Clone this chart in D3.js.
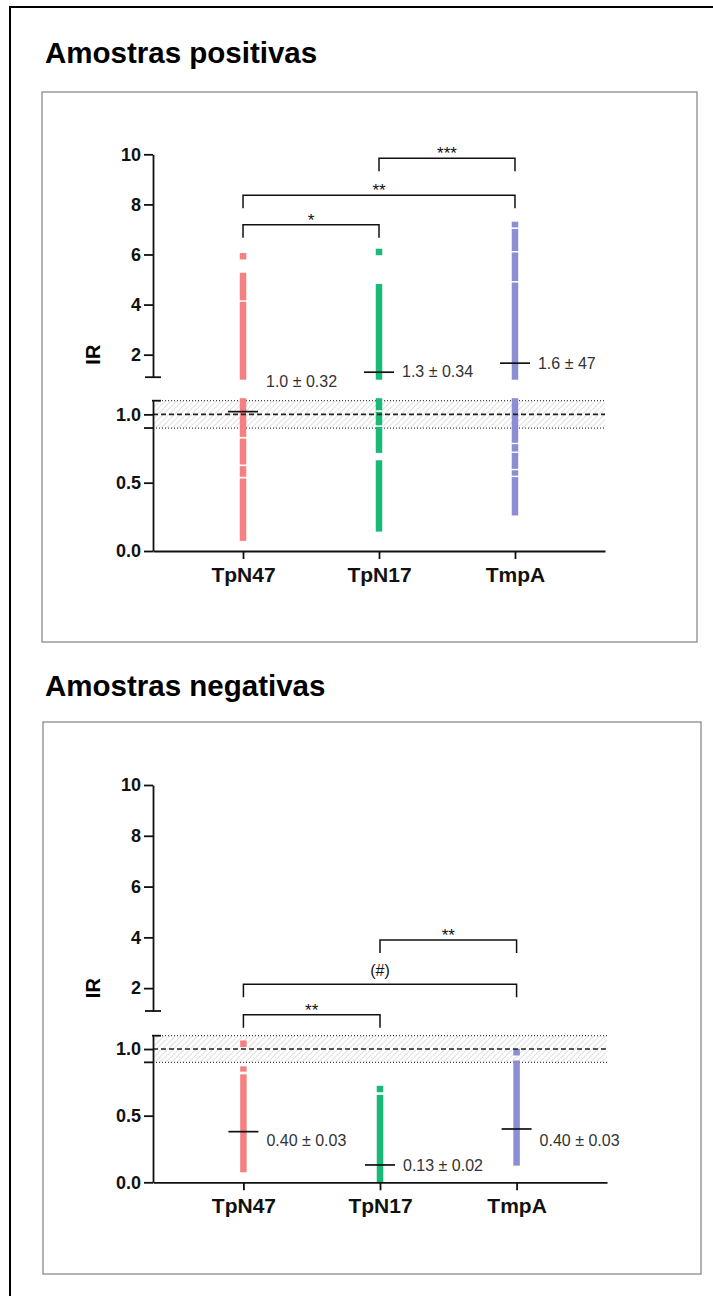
<!DOCTYPE html>
<html lang="pt">
  <head>
    <meta charset="UTF-8" />
    <title>Amostras positivas / negativas - IR</title>
    <script src="https://d3js.org/d3.v7.min.js"></script>
    <style>
      body {
        margin: 0;
        background: white;
        font-family: Arial, 'Liberation Sans', sans-serif;
      }
      .title {
        font-size: 29.5px;
        font-weight: bold;
      }
      .box {
        fill: none;
        stroke: #8a8a8a;
        stroke-width: 1.3px;
      }
      .axis path,
      .axis line {
        stroke: #111;
        stroke-width: 1.8px;
      }
      .axis text {
        font-size: 18px;
        font-weight: bold;
        fill: #111;
      }
      .xaxis text {
        font-size: 21px;
      }
      .cap {
        stroke: #111;
        stroke-width: 1.8px;
      }
      .ref-dot {
        stroke: #444;
        stroke-width: 1.3px;
        stroke-dasharray: 1 2;
      }
      .ref-dash {
        stroke: #222;
        stroke-width: 1.6px;
        stroke-dasharray: 5 3;
      }
      .mean {
        stroke: #111;
        stroke-width: 1.7px;
      }
      .mean-label {
        font-size: 16px;
        fill: #333;
      }
      .bracket {
        fill: none;
        stroke: #111;
        stroke-width: 1.5px;
      }
      .sig {
        font-size: 17px;
        fill: #111;
        text-anchor: middle;
      }
      .ylabel {
        font-size: 20px;
        font-weight: bold;
      }
    </style>
  </head>
  <body>
    <div id="chart"></div>

    <script>
      // categories and ticks
      const groups = ['TpN47', 'TpN17', 'TmpA'];
      const colors = ['#f58081', '#19b978', '#8b8fd1'];
      const upperTicks = [2, 4, 6, 8, 10];
      const lowerTicks = [0, 0.5, 1.0];
      const breakAt = 1.1;
      const refLine = 1.0;
      const refBand = [0.9, 1.1];

      // positive samples: runs of overlapping points [from, to] and isolated points
      const posRuns = [
        [[0.074, 0.531], [0.543, 0.621], [0.633, 0.823], [0.835, 4.11], [4.17, 5.27]],
        [[0.142, 0.664], [0.718, 0.908], [0.92, 1.018], [1.03, 4.82]],
        [[0.26, 0.541], [0.551, 0.591], [0.601, 0.718], [0.728, 0.782], [0.792, 4.88], [4.94, 6.08], [6.14, 7.02], [7.08, 7.31]],
      ];
      const posPoints = [[5.93], [6.1], []];
      const posMeans = [1.02, 1.3, 1.66];
      const posLabels = ['1.0 ± 0.32', '1.3 ± 0.34', '1.6 ± 47'];
      // [from group, to group, level (IR), text]
      const posBrackets = [
        [0, 1, 7.19, '*'],
        [0, 2, 8.36, '**'],
        [1, 2, 9.84, '***'],
      ];

      // negative samples
      const negRuns = [
        [[0.075, 0.81], [0.83, 0.87]],
        [[0.0, 0.656]],
        [[0.125, 0.914]],
      ];
      const negPoints = [[1.04], [0.7], [0.976]];
      const negMeans = [0.38, 0.13, 0.4];
      const negLabels = ['0.40 ± 0.03', '0.13 ± 0.02', '0.40 ± 0.03'];
      const negBrackets = [
        [1, 2, 3.9, '**'],
        [0, 2, 2.157, '(#)'],
        [0, 1, 0.949, '**'],
      ];

      // layout of the two panels
      const panels = [
        {
          title: 'Amostras positivas',
          titleY: 63,
          box: [42, 92, 655, 550],
          upper: [154.3, 377.2],
          lower: [400.7, 551],
          xr: [153, 605],
          labelDy: [-30, -1, 0],
          runs: posRuns,
          points: posPoints,
          means: posMeans,
          labels: posLabels,
          brackets: posBrackets,
        },
        {
          title: 'Amostras negativas',
          titleY: 696,
          box: [43, 722, 658, 552],
          upper: [785, 1011],
          lower: [1035.7, 1182.3],
          xr: [153, 607],
          labelDy: [9, 0, 11.5],
          runs: negRuns,
          points: negPoints,
          means: negMeans,
          labels: negLabels,
          brackets: negBrackets,
        },
      ];

      const width = 713,
        height = 1296,
        stripW = 6.5,
        pointSize = 6.5;

      const svg = d3
        .select('#chart')
        .append('svg')
        .attr('width', width)
        .attr('height', height);

      svg
        .append('defs')
        .append('pattern')
        .attr('id', 'hatch')
        .attr('patternUnits', 'userSpaceOnUse')
        .attr('width', 4)
        .attr('height', 4)
        .attr('patternTransform', 'rotate(45)')
        .append('line')
        .attr('x1', 0)
        .attr('y1', 0)
        .attr('x2', 0)
        .attr('y2', 4)
        .attr('stroke', '#c2c2c2')
        .attr('stroke-width', 1);

      // outer frame
      svg
        .append('rect')
        .attr('x', 10)
        .attr('y', 7)
        .attr('width', width)
        .attr('height', height)
        .attr('fill', 'none')
        .attr('stroke', '#000')
        .attr('stroke-width', 2);

      panels.forEach(drawPanel);

      function drawPanel(p) {
        const g = svg.append('g');

        g.append('text')
          .attr('class', 'title')
          .attr('x', 45)
          .attr('y', p.titleY)
          .text(p.title);

        g.append('rect')
          .attr('class', 'box')
          .attr('x', p.box[0])
          .attr('y', p.box[1])
          .attr('width', p.box[2])
          .attr('height', p.box[3]);

        const x = d3.scalePoint().domain(groups).range(p.xr).padding(0.662);
        const yUp = d3.scaleLinear().domain([breakAt, 10]).range([p.upper[1], p.upper[0]]);
        const yLo = d3.scaleLinear().domain([0, breakAt]).range([p.lower[1], p.lower[0]]);
        const segs = [
          { y: yUp, lo: breakAt, hi: 10 },
          { y: yLo, lo: 0, hi: breakAt },
        ];
        const yOf = (v) => (v > breakAt ? yUp(v) : yLo(v));
        const [x0, x1] = p.xr;

        // reference band 0.9 - 1.1
        g.append('rect')
          .attr('x', x0)
          .attr('y', yLo(refBand[1]))
          .attr('width', x1 - x0)
          .attr('height', yLo(refBand[0]) - yLo(refBand[1]))
          .attr('fill', 'url(#hatch)');

        g.selectAll('.ref-dot')
          .data(refBand)
          .enter()
          .append('line')
          .attr('class', 'ref-dot')
          .attr('x1', x0)
          .attr('x2', x1)
          .attr('y1', (d) => yLo(d))
          .attr('y2', (d) => yLo(d));

        // strips of points, split over the two axis segments
        const pieces = [];
        p.runs.forEach((runs, i) => {
          runs.forEach(([a, b]) => {
            segs.forEach((s) => {
              const lo = Math.max(a, s.lo),
                hi = Math.min(b, s.hi);
              if (lo > hi || (lo === hi && a !== b)) return;
              const top = s.y(hi) - (hi < b ? 2.5 : 0);
              const bot = s.y(lo) + (lo > a ? 2.5 : 0);
              pieces.push({ i, top, h: Math.max(1, bot - top) });
            });
          });
          p.points[i].forEach((v) => {
            pieces.push({ i, top: yOf(v) - pointSize / 2, h: pointSize });
          });
        });

        g.selectAll('.strip')
          .data(pieces)
          .enter()
          .append('rect')
          .attr('class', 'strip')
          .attr('x', (d) => x(groups[d.i]) - stripW / 2)
          .attr('width', stripW)
          .attr('y', (d) => d.top)
          .attr('height', (d) => d.h)
          .attr('fill', (d) => colors[d.i]);

        g.append('line')
          .attr('class', 'ref-dash')
          .attr('x1', x0)
          .attr('x2', x1)
          .attr('y1', yLo(refLine))
          .attr('y2', yLo(refLine));

        // means
        g.selectAll('.mean')
          .data(p.means)
          .enter()
          .append('line')
          .attr('class', 'mean')
          .attr('x1', (d, i) => x(groups[i]) - 15)
          .attr('x2', (d, i) => x(groups[i]) + 15)
          .attr('y1', (d) => yOf(d))
          .attr('y2', (d) => yOf(d));

        g.selectAll('.mean-label')
          .data(p.labels)
          .enter()
          .append('text')
          .attr('class', 'mean-label')
          .attr('x', (d, i) => x(groups[i]) + 23)
          .attr('y', (d, i) => yOf(p.means[i]) + p.labelDy[i])
          .attr('dy', '0.36em')
          .text((d) => d);

        // axes
        g.append('g')
          .attr('class', 'axis')
          .attr('transform', `translate(${x0},0)`)
          .call(
            d3
              .axisLeft(yUp)
              .tickValues(upperTicks)
              .tickSize(9)
              .tickSizeOuter(0)
              .tickFormat(d3.format('d')),
          );

        g.append('g')
          .attr('class', 'axis')
          .attr('transform', `translate(${x0},0)`)
          .call(
            d3
              .axisLeft(yLo)
              .tickValues(lowerTicks)
              .tickSize(9)
              .tickSizeOuter(0)
              .tickFormat(d3.format('.1f')),
          );

        // break caps and minor tick at 0.9
        g.append('line')
          .attr('class', 'cap')
          .attr('x1', x0 - 8)
          .attr('x2', x0 + 8)
          .attr('y1', yUp(breakAt))
          .attr('y2', yUp(breakAt));
        g.append('line')
          .attr('class', 'cap')
          .attr('x1', x0 - 1)
          .attr('x2', x0 + 8)
          .attr('y1', yLo(breakAt))
          .attr('y2', yLo(breakAt));
        g.append('line')
          .attr('class', 'cap')
          .attr('x1', x0 - 9)
          .attr('x2', x0)
          .attr('y1', yLo(refBand[0]))
          .attr('y2', yLo(refBand[0]));

        g.append('g')
          .attr('class', 'axis xaxis')
          .attr('transform', `translate(0,${yLo(0)})`)
          .call(d3.axisBottom(x).tickSize(8).tickSizeOuter(0).tickPadding(8));

        g.append('text')
          .attr('class', 'ylabel')
          .attr('transform', `translate(100,${yUp(2)}) rotate(-90)`)
          .attr('text-anchor', 'middle')
          .text('IR');

        // significance brackets
        const leg = 13;
        g.selectAll('.bracket')
          .data(p.brackets)
          .enter()
          .append('path')
          .attr('class', 'bracket')
          .attr('d', (d) => {
            const yb = yUp(d[2]);
            return `M${x(groups[d[0]])},${yb + leg}V${yb}H${x(groups[d[1]])}V${yb + leg}`;
          });

        g.selectAll('.sig')
          .data(p.brackets)
          .enter()
          .append('text')
          .attr('class', 'sig')
          .attr('x', (d) => (x(groups[d[0]]) + x(groups[d[1]])) / 2)
          .attr('y', (d) => yUp(d[2]) + (d[3].startsWith('(') ? -8 : 1))
          .style('font-size', (d) => (d[3].startsWith('(') ? '16px' : '17px'))
          .text((d) => d[3]);
      }
    </script>
  </body>
</html>
